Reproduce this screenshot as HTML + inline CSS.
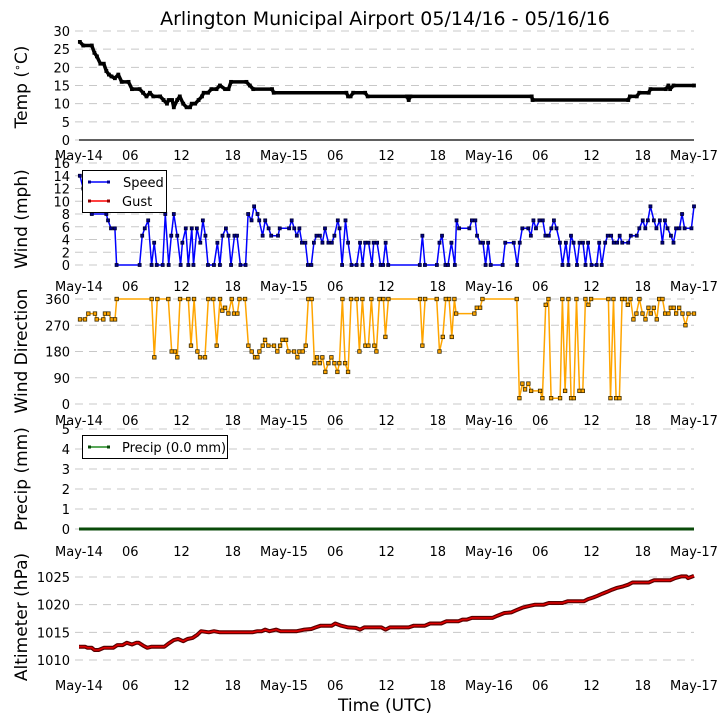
<!DOCTYPE html>
<html><head><meta charset="utf-8">
<style>
body{margin:0;background:#fff;}
svg{display:block;font-family:"DejaVu Sans","Liberation Sans",sans-serif;}
</style></head>
<body>
<svg id="chart" width="727" height="725" viewBox="0 0 727 725">
<text x="385" y="25" font-size="19" text-anchor="middle">Arlington Municipal Airport 05/14/16 - 05/16/16</text>
<text x="385" y="711" font-size="17" text-anchor="middle">Time (UTC)</text>
</svg>
<script>
// x tick labels
const xTickHours = [0,6,12,18,24,30,36,42,48,54,60,66,72];
const xTickLabels = ["May-14","06","12","18","May-15","06","12","18","May-16","06","12","18","May-17"];
// temperature
const tempTimes = [0.1,0.5,1.5,1.8,2.1,2.5,2.9,3.2,3.5,3.8,4.2,4.6,5.0,5.8,6.2,7.1,7.5,7.9,8.3,8.7,9.5,9.9,10.3,10.5,10.9,11.1,11.5,11.8,12.2,12.6,13.0,13.2,13.6,14.0,14.4,14.6,15.1,15.5,16.1,16.5,17.1,17.5,17.8,19.6,20.0,20.4,22.6,22.8,31.3,31.5,31.8,32.1,33.5,33.8,38.4,38.6,38.8,53.0,53.1,64.3,64.5,65.3,65.6,66.7,66.9,68.7,69.0,69.2,69.6,72];
const tempValues = [27,26,26,24,23,21,21,19,18,17.5,17,18,16,16,14,14,13,12,13,12,12,11,10,11,11,9,11,12,10,9,9,10,10,11,12,13,13,14,14,15,14,14,16,16,15,14,14,13,13,12,12,13,13,12,12,11,12,12,11,11,12,12,13,13,14,14,15,14,15,15];
// wind speed
const windTimes = [0.1,0.5,1.5,3.2,3.4,3.75,4.2,4.4,7.1,7.4,7.7,8.1,8.5,8.8,9.1,9.8,10.1,10.5,10.8,11.1,11.5,11.9,12.1,12.5,12.8,13.2,13.4,13.8,14.2,14.5,14.8,15.1,15.8,16.2,16.5,16.8,17.2,17.5,17.8,18.2,18.5,18.9,19.5,19.8,20.2,20.5,20.9,21.1,21.5,21.8,22.2,22.5,23.3,23.5,24.6,24.9,25.2,25.5,25.8,26.1,26.5,26.8,27.2,27.5,27.8,28.2,28.5,28.8,29.2,29.6,29.9,30.3,30.5,30.8,31.2,31.5,31.9,32.5,32.9,33.2,33.5,33.9,34.3,34.5,34.9,35.3,35.6,35.9,36.2,39.9,40.2,40.5,41.9,42.2,42.5,42.9,43.2,43.6,44.0,44.2,44.5,45.7,46.0,46.4,46.6,47.0,47.3,47.6,47.9,48.2,49.6,49.9,50.9,51.3,51.6,51.9,52.6,52.9,53.2,53.5,53.9,54.3,54.6,55.0,55.3,55.6,55.9,56.3,56.6,57.0,57.3,57.6,57.9,58.3,58.6,59.0,59.3,59.6,60.0,60.6,60.9,61.2,61.6,61.9,62.3,62.6,63.0,63.3,63.6,64.3,64.6,65.3,65.6,66.0,66.3,66.6,66.9,67.3,67.6,68.0,68.3,68.6,68.9,69.3,69.6,69.9,70.3,70.6,70.9,71.7,72];
const windValues = [14,12,8,8,7,5.75,5.75,0,0,4.6,5.75,7,0,3.5,0,0,8,0,4.6,8,4.6,0,3.5,5.75,0,5.75,0,5.75,3.5,7,4.6,0,0,3.5,0,4.6,5.75,4.6,0,4.6,4.6,0,0,8,7,9.2,8,7,4.6,7,5.75,4.6,4.6,5.75,5.75,7,5.75,4.6,5.75,3.5,3.5,0,0,3.5,4.6,4.6,3.5,5.75,3.5,3.5,4.6,7,5.75,0,7,3.5,0,0,3.5,0,3.5,3.5,0,3.5,3.5,0,0,3.5,0,0,4.6,0,0,3.5,4.6,0,0,3.5,0,7,5.75,5.75,7,7,4.6,3.5,3.5,0,3.5,0,0,3.5,3.5,0,3.5,5.75,5.75,4.6,7,5.75,7,7,4.6,4.6,5.75,7,5.75,3.5,0,3.5,0,4.6,3.5,0,3.5,3.5,0,3.5,0,0,3.5,0,3.5,4.6,4.6,3.5,3.5,4.6,3.5,3.5,4.6,4.6,5.75,7,5.75,7,9.2,7,5.75,7,3.5,7,5.75,4.6,3.5,5.75,5.75,8,5.75,5.75,9.2];
// wind direction
const dirTimes = [0.12,0.7,1.09,1.87,2.07,2.85,3.04,3.44,3.83,4.22,4.41,8.51,8.82,9.17,10.46,10.85,11.24,11.51,11.83,12.8,13.11,13.47,13.86,14.17,14.75,15.14,15.73,16.12,16.51,16.78,17.1,17.49,17.88,18.15,18.54,18.78,19.44,19.83,20.22,20.61,20.89,21.12,21.51,21.78,22.17,22.83,23.22,23.54,23.81,24.24,24.51,25.18,25.57,25.8,26.19,26.54,26.85,27.24,27.56,27.87,28.18,28.49,28.84,29.2,29.55,29.9,30.25,30.48,30.84,31.15,31.5,31.85,32.51,32.83,33.18,33.53,33.88,34.23,34.58,34.82,35.17,35.64,35.87,36.22,39.93,40.2,40.52,41.88,42.2,42.59,42.94,43.33,43.64,43.95,44.15,46.29,46.57,46.96,47.23,51.25,51.56,51.91,52.22,52.61,52.93,53.98,54.25,54.64,54.96,55.27,56.32,56.59,56.91,57.3,57.61,57.93,58.24,58.59,58.98,59.29,59.64,59.95,61.98,62.22,62.57,62.88,63.27,63.58,63.93,64.25,64.56,64.91,65.26,65.61,65.97,66.32,66.67,66.94,67.29,67.64,67.92,68.31,68.62,69.01,69.28,69.63,69.91,70.26,70.65,71.0,71.35,72.0];
const dirValues = [290,290,310,310,290,290,310,310,290,290,360,360,160,360,360,180,180,160,360,360,200,360,180,160,160,360,360,200,360,320,330,310,360,310,310,360,360,200,180,160,160,180,200,220,200,200,180,200,220,220,180,180,160,180,180,200,360,360,140,160,140,160,110,140,160,140,110,140,360,140,110,360,360,180,360,200,200,360,200,180,360,360,230,360,360,200,360,360,180,230,360,360,230,360,310,310,330,330,360,360,20,70,50,70,45,45,20,340,360,20,20,360,45,360,20,20,360,45,45,360,340,360,360,20,360,20,20,360,360,340,360,290,310,360,310,290,330,310,330,290,360,360,310,310,330,330,310,330,310,270,310,310];
// precipitation
const precipTimes = [0,72];
const precipValues = [0,0];
// altimeter
const altTimes = [0,0.7,1.0,1.5,1.8,2.3,2.9,4.0,4.5,5.1,5.6,6.2,6.7,7.0,7.5,8.0,8.5,10.0,10.5,11.1,11.6,12.2,12.7,13.3,13.8,14.3,15.2,15.8,16.5,20.3,20.9,21.4,21.8,22.3,23.1,23.6,25.5,26.4,27.2,27.7,28.3,29.6,30.0,30.7,31.5,32.4,32.9,33.4,34.5,35.4,35.9,36.4,38.6,39.2,40.5,41.1,42.4,43.0,44.4,44.9,45.4,46.0,48.4,49.0,49.8,50.6,51.2,52.0,52.8,53.4,54.4,55.0,56.6,57.2,59.1,59.6,60.2,60.7,61.3,61.8,62.4,62.9,63.7,64.3,64.8,66.7,67.3,69.2,69.8,70.5,71.1,71.3,72];
const altValues = [1012.4,1012.4,1012.2,1012.2,1011.8,1011.8,1012.2,1012.2,1012.7,1012.7,1013.1,1012.8,1013.1,1013.1,1012.6,1012.2,1012.4,1012.4,1013,1013.6,1013.8,1013.4,1013.8,1014,1014.5,1015.2,1015,1015.2,1015,1015,1015.2,1015.2,1015.5,1015.2,1015.5,1015.2,1015.2,1015.5,1015.6,1015.9,1016.2,1016.2,1016.6,1016.2,1015.9,1015.8,1015.5,1015.9,1015.9,1015.9,1015.5,1015.9,1015.9,1016.2,1016.2,1016.6,1016.6,1017,1017,1017.3,1017.3,1017.6,1017.6,1018,1018.5,1018.6,1019,1019.5,1019.8,1020,1020,1020.3,1020.3,1020.6,1020.6,1021,1021.3,1021.6,1022,1022.3,1022.7,1023,1023.3,1023.6,1024,1024,1024.4,1024.4,1024.8,1025.1,1025.1,1024.8,1025.2];

const NS = "http://www.w3.org/2000/svg";
const svg = document.getElementById("chart");
const X0 = 79, X1 = 694;
function xs(h){ return X0 + (X1 - X0) * h / 72; }
function mk(tag, attrs, parent){
  const e = document.createElementNS(NS, tag);
  for (const k in attrs) e.setAttribute(k, attrs[k]);
  (parent || svg).appendChild(e);
  return e;
}
function linScale(v0, y0, v1, y1){ return v => y0 + (v - v0) * (y1 - y0) / (v1 - v0); }

function panel(name, yScale, ticks, tickLabels, xLabelY, ylabel, ylabelY, solidBase){
  const g = mk("g", {});
  
  
  ticks.forEach((t, i) => {
    const y = yScale(t);
    const gl = mk("line", {x1: 75, x2: X1, y1: y, y2: y, stroke: "#c8c8c8", "stroke-width": 1, "stroke-dasharray": "8,6"}, g);
    
    
    const tl = mk("text", {x: 70, y: y + 5, "font-size": 13, "text-anchor": "end"}, g);
    tl.textContent = tickLabels[i];
    
    
  });
  if (solidBase){
    const bl = mk("line", {x1: X0, x2: X1, y1: yScale(0), y2: yScale(0), stroke: "#000", "stroke-width": 1.2}, g);
    
    
  }
  xTickHours.forEach((h, i) => {
    const t = mk("text", {x: xs(h), y: xLabelY, "font-size": 13, "text-anchor": "middle"}, g);
    t.textContent = xTickLabels[i];
    
    
  });
  const yl = mk("text", {x: 0, y: 0, "font-size": 17, "text-anchor": "middle", transform: `translate(27,${ylabelY}) rotate(-90)`}, g);
  yl.innerHTML = ylabel;
  
  
  return g;
}

function series(g, name, times, values, yScale, lineColor, lineW, mColor, mEdge, mSize){
  const pts = times.map((t, i) => xs(t).toFixed(1) + "," + yScale(values[i]).toFixed(1)).join(" ");
  const pl = mk("polyline", {points: pts, fill: "none", stroke: lineColor, "stroke-width": lineW, "stroke-linejoin": "round"}, g);
  
  
  if (mSize > 0){
    times.forEach((t, i) => {
      const r = mk("rect", {x: xs(t) - mSize/2, y: yScale(values[i]) - mSize/2, width: mSize, height: mSize, fill: mColor, stroke: mEdge, "stroke-width": 0.8}, g);
      
      
    });
  }
}

// Temperature
const yT = linScale(0, 140, 30, 31);
const gT = panel("temp", yT, [0,5,10,15,20,25,30], ["0","5","10","15","20","25","30"], 160, "Temp (<tspan font-size='11' dy='-6'>∘</tspan><tspan dy='6'>C)</tspan>", 87, true);
series(gT, "temp", tempTimes, tempValues, yT, "#000", 3.5, "#000", "#000", 3);

// Wind
const yW = linScale(0, 265, 16, 163);
const gW = panel("wind", yW, [0,2,4,6,8,10,12,14,16], ["0","2","4","6","8","10","12","14","16"], 291, "Wind (mph)", 219, false);
series(gW, "wind-speed", windTimes, windValues, yW, "#0000ff", 1.5, "#00008b", "#000033", 3);

// Wind legend
const lg = mk("g", {});


mk("rect", {x: 82.5, y: 170.5, width: 84, height: 42, fill: "#fff", stroke: "#000", "stroke-width": 1}, lg);
mk("line", {x1: 89, x2: 109, y1: 182, y2: 182, stroke: "#0000ff", "stroke-width": 1.5}, lg);
mk("rect", {x: 88, y: 180.5, width: 3, height: 3, fill: "#00008b"}, lg);
mk("rect", {x: 107, y: 180.5, width: 3, height: 3, fill: "#00008b"}, lg);
const ls = mk("text", {x: 123, y: 187, "font-size": 13}, lg);
ls.textContent = "Speed";


mk("line", {x1: 89, x2: 109, y1: 201, y2: 201, stroke: "#ff0000", "stroke-width": 1.5}, lg);
mk("rect", {x: 88, y: 199.5, width: 3, height: 3, fill: "#8b0000"}, lg);
mk("rect", {x: 107, y: 199.5, width: 3, height: 3, fill: "#8b0000"}, lg);
const lgu = mk("text", {x: 122, y: 206, "font-size": 13}, lg);
lgu.textContent = "Gust";



// Wind direction
const yD = linScale(0, 404, 360, 299);
const gD = panel("direction", yD, [0,90,180,270,360], ["0","90","180","270","360"], 425, "Wind Direction", 351, false);
series(gD, "wind-direction", dirTimes, dirValues, yD, "#ffa500", 1.5, "#ffa500", "#3a2a00", 3.5);

// Precip
const yP = linScale(0, 529, 5, 429);
const gP = panel("precip", yP, [0,1,2,3,4,5], ["0","1","2","3","4","5"], 556, "Precip (mm)", 479, false);
series(gP, "precip", precipTimes, precipValues, yP, "#0a4a0a", 3, "#0a4a0a", "#0a4a0a", 0);
const pl = mk("g", {});


mk("rect", {x: 82.5, y: 435.5, width: 145, height: 23, fill: "#fff", stroke: "#000", "stroke-width": 1}, pl);
mk("line", {x1: 89, x2: 109, y1: 447, y2: 447, stroke: "#228b22", "stroke-width": 1.5}, pl);
mk("rect", {x: 88, y: 445.5, width: 3, height: 3, fill: "#0a4a0a"}, pl);
mk("rect", {x: 107, y: 445.5, width: 3, height: 3, fill: "#0a4a0a"}, pl);
const plt = mk("text", {x: 122, y: 452, "font-size": 13}, pl);
plt.textContent = "Precip (0.0 mm)";



// Altimeter
const yA = linScale(1010, 660, 1025, 577);
const gA = panel("altimeter", yA, [1010,1015,1020,1025], ["1010","1015","1020","1025"], 690, "Altimeter (hPa)", 617, false);
series(gA, "altimeter", altTimes, altValues, yA, "#5a0000", 4, "#cc0000", "#5a0000", 0);
series(gA, "altimeter-core", altTimes, altValues, yA, "#e00000", 1.6, "#e00000", "#5a0000", 0);
</script>
</body></html>
